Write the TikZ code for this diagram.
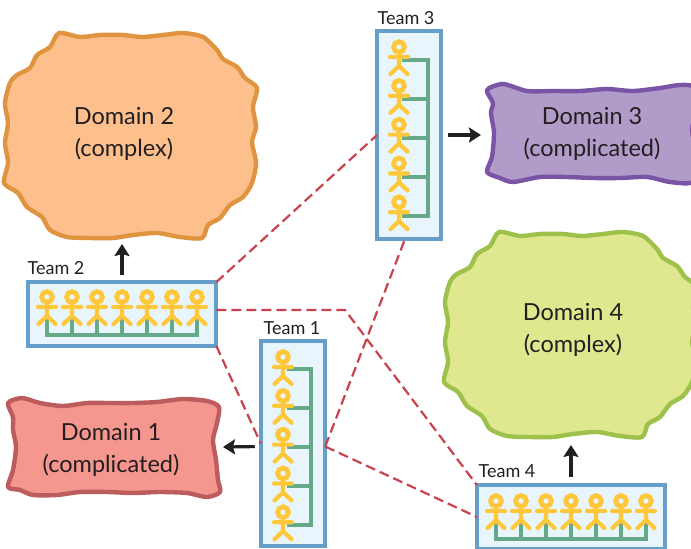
\documentclass[tikz,border=0pt]{standalone}
\usepackage{fontspec}
\setmainfont{Lato}
\usetikzlibrary{arrows.meta, positioning}
\definecolor{boxfill}{HTML}{E8F5FD}
\definecolor{boxline}{HTML}{659FC9}
\definecolor{linkgreen}{HTML}{66A988}
\definecolor{personyellow}{HTML}{FFC83A}
\definecolor{dashred}{HTML}{C8434D}
\definecolor{inkblack}{HTML}{231F20}
\definecolor{orangeline}{HTML}{E09440}
\definecolor{orangefill}{HTML}{FDC08D}
\definecolor{limeline}{HTML}{9EC14C}
\definecolor{limefill}{HTML}{E0E88F}
\definecolor{redline}{HTML}{BC5C5C}
\definecolor{redfill}{HTML}{F5968F}
\definecolor{purpleline}{HTML}{7B55A5}
\definecolor{purplefill}{HTML}{B19BC9}
\tikzset{
  teambox/.style={rectangle, draw=boxline, fill=boxfill, line width=3.8pt, inner sep=0, outer sep=0},
  teamlabel/.style={text=inkblack, font=\fontsize{18}{18}\selectfont, inner sep=0},
  domaintext/.style={text=inkblack, align=center, font=\fontsize{23.5}{32}\selectfont, inner sep=0},
  blob/.style={line width=4.4pt, line join=round},
  coupling/.style={draw=dashred, line width=2.2pt, dash pattern=on 10pt off 5pt},
  flow/.style={draw=inkblack, line width=3.2pt, -{Stealth[length=12pt,width=15pt,inset=2pt]}},
  link/.style={draw=linkgreen, line width=3.8pt},
  person/.pic={
    \draw[draw=personyellow, line width=4.8pt] (0,0) circle[radius=5.4];
    \draw[draw=personyellow, line width=4.2pt, line cap=round, line join=round]
      (-9,10)--(9,10)
      (0,6)--(0,20)
      (-8.5,27)--(0,19)--(8.5,27);
  }
}
\newcommand{\complexblob}{plot[smooth cycle, tension=0.45] coordinates {(59,33)(80,37)(100,35)(123,35)(142,37)(163,35)(183,33)(203,37)(217,50)(223,59)(237,67)(245,78)(257,88)(253,107)(256,127)(252,142)(256,163)(252,183)(243,197)(230,205)(220,218)(208,225)(202,238)(180,237)(157,233)(133,235)(113,238)(90,238)(67,237)(50,230)(42,217)(27,207)(18,193)(4,183)(8,163)(5,143)(8,123)(5,103)(10,83)(17,75)(30,68)(37,55)(50,47)}}
\begin{document}
\begin{tikzpicture}[x=1pt, y=-1pt]
  \path[use as bounding box, clip] (0,0) rectangle (691,549);

  \draw[blob, draw=orangeline, fill=orangefill] \complexblob;
  \draw[blob, draw=limeline, fill=limefill, shift={(440,199)}] \complexblob;
  \draw[blob, draw=redline, fill=redfill] plot[smooth cycle, tension=0.45] coordinates {(8,403)(22,398)(40,403)(63,406)(87,403)(110,403)(133,403)(157,402)(183,399)(207,401)(219,407)(217,423)(213,440)(216,460)(218,480)(220,492)(207,497)(187,493)(160,492)(133,493)(107,492)(80,492)(57,495)(33,495)(20,490)(8,487)(13,470)(16,447)(13,430)(13,417)};
  \draw[blob, draw=purpleline, fill=purplefill] plot[smooth cycle, tension=0.45] coordinates {(487,90)(503,84)(527,91)(553,91)(580,91)(607,89)(633,91)(660,88)(680,85)(694,87)(698,105)(692,130)(698,160)(693,182)(670,182)(647,177)(620,178)(593,178)(567,177)(540,177)(513,182)(500,178)(487,172)(492,157)(494,133)(491,113)(493,103)};

  \node[domaintext](domain1) at (111,450){Domain 1\\(complicated)};
  \node[domaintext](domain2) at (124,133.5){Domain 2\\(complex)};
  \node[domaintext](domain3) at (592,133.5){Domain 3\\(complicated)};
  \node[domaintext](domain4) at (573,330){Domain 4\\(complex)};

  \node[teambox, minimum width=188.5pt, minimum height=63.5pt](team2) at (122,314){};
  \node[teambox, minimum width=64.5pt, minimum height=205pt](team1) at (293,443.5){};
  \node[teambox, minimum width=64pt, minimum height=208pt](team3) at (409,135){};
  \node[teambox, minimum width=188pt, minimum height=63.5pt](team4) at (571,517){};

  \node[teamlabel](label1) at (292,328){Team 1};
  \node[teamlabel](label2) at (56,268){Team 2};
  \node[teamlabel](label3) at (406,18){Team 3};
  \node[teamlabel](label4) at (507,471){Team 4};

  \coordinate(bend) at (345,310);
  \draw[coupling](team2.north east)--(team3.west);
  \draw[coupling]([yshift=4pt]team2.east)--(bend)--(team4.north west);
  \draw[coupling](team2.south east)--(team1.west);
  \draw[coupling]([yshift=-3pt]team1.east)--([xshift=-4pt]team3.south);
  \draw[coupling]([yshift=-3pt]team1.east)--(team4.west);

  \coordinate(tip1) at (223,447);
  \coordinate(tip2) at (122,244);
  \coordinate(tip3) at (481,135);
  \coordinate(tip4) at (571,445);
  \draw[flow, shorten <=6pt]([yshift=-3pt]team1.west)--(tip1);
  \draw[flow, shorten <=7pt](team2.north)--(tip2);
  \draw[flow, shorten <=7pt](team3.east)--(tip3);
  \draw[flow, shorten <=8pt](team4.north)--(tip4);

  \draw[link](47,318)--(47,335)--(197,335)--(197,318);
  \draw[link](496,522)--(496,539)--(646,539)--(646,522);
  \foreach \i in {1,...,5}{
    \draw[link](47+25*\i,318)--(47+25*\i,335);
    \draw[link](496+25*\i,522)--(496+25*\i,539);
  }
  \foreach \i in {0,...,6}{
    \pic at (47+25*\i,297){person};
    \pic at (496+25*\i,501){person};
  }

  \draw[link](287,369)--(311,369)--(311,525)--(287,525);
  \draw[link](402,60)--(428,60)--(428,216)--(402,216);
  \foreach \i in {1,2,3}{
    \draw[link](287,369+39*\i)--(311,369+39*\i);
    \draw[link](402,60+39*\i)--(428,60+39*\i);
  }
  \foreach \i in {0,...,4}{
    \pic at (283,357+38.8*\i){person};
    \pic at (399,47+38.8*\i){person};
  }
\end{tikzpicture}
\end{document}
